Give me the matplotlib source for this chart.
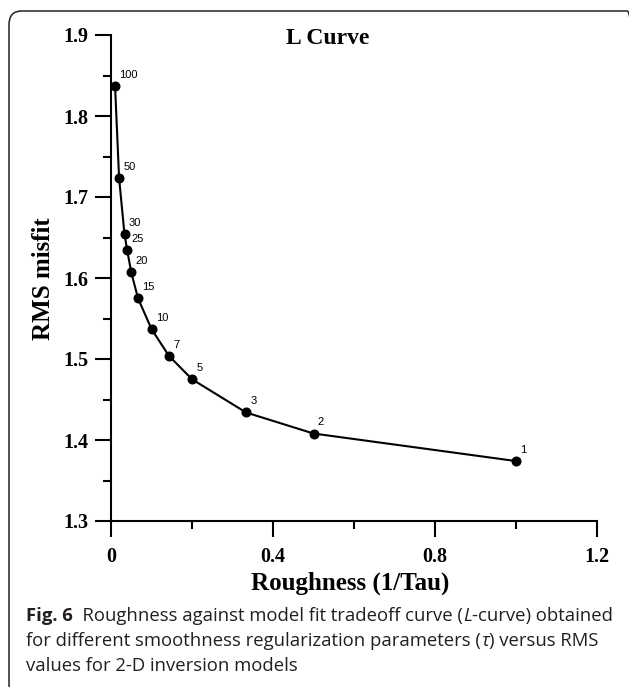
import matplotlib
matplotlib.use("Agg")
import matplotlib.pyplot as plt
from matplotlib.patches import FancyBboxPatch
from matplotlib.ticker import MultipleLocator

# regularization parameter tau, roughness = 1/tau, RMS misfit
tau = [100, 50, 30, 25, 20, 15, 10, 7, 5, 3, 2, 1]
roughness = [1.0 / t for t in tau]
rms = [1.837, 1.723, 1.654, 1.634, 1.607, 1.575, 1.537, 1.504, 1.475, 1.434, 1.408, 1.374]

x_ticks = [0, 0.4, 0.8, 1.2]
x_tick_labels = ["0", "0.4", "0.8", "1.2"]
y_ticks = [1.3, 1.4, 1.5, 1.6, 1.7, 1.8, 1.9]

W, H = 629, 687
fig = plt.figure(figsize=(W / 100, H / 100), dpi=100)

def fx(px):
    return px / W

def fy(py):
    return 1 - py / H

serif = "Liberation Serif"

# rounded frame round the figure
frame = FancyBboxPatch((fx(9), fy(698)), fx(640) - fx(9), fy(11) - fy(698),
                       boxstyle="round,pad=0,rounding_size=0.02",
                       transform=fig.transFigure, fill=False,
                       edgecolor="#222222", linewidth=1.1, clip_on=False)
fig.patches.append(frame)

ax = fig.add_axes([fx(111), fy(521), fx(597) - fx(111), fy(35) - fy(521)])
ax.plot(roughness, rms, color="black", lw=1.5, marker="o", ms=6.2, clip_on=False, zorder=3)
for x, y, t in zip(roughness, rms, tau):
    ax.annotate(str(t), (x, y), xytext=(3, 4.5), textcoords="offset points",
                ha="left", va="bottom", fontsize=8, family="Liberation Sans")

ax.set_xlim(0, 1.2)
ax.set_ylim(1.3, 1.9)
for s in ["top", "right"]:
    ax.spines[s].set_visible(False)
for s in ["left", "bottom"]:
    ax.spines[s].set_linewidth(1.5)

ax.set_xticks(x_ticks)
ax.set_xticklabels(x_tick_labels)
ax.set_yticks(y_ticks)
ax.set_yticklabels([f"{v:.1f}" for v in y_ticks])
ax.xaxis.set_minor_locator(MultipleLocator(0.2))
ax.yaxis.set_minor_locator(MultipleLocator(0.05))
ax.tick_params(which="major", direction="out", length=11.5, width=1.5)
ax.tick_params(which="minor", direction="out", length=6, width=1.5)
ax.tick_params(axis="x", which="major", pad=7)
ax.tick_params(axis="y", which="major", pad=5)
for lab in ax.get_xticklabels() + ax.get_yticklabels():
    lab.set_family(serif)
    lab.set_fontweight("bold")
    lab.set_fontsize(14.5)

fig.text(fx(327.5), fy(44), "L Curve", ha="center", va="baseline",
         family=serif, fontweight="bold", fontsize=17)
fig.text(fx(350), fy(590), "Roughness (1/Tau)", ha="center", va="baseline",
         family=serif, fontweight="bold", fontsize=18)
fig.text(fx(44), fy(279), "RMS misfit", ha="center", va="center", rotation=90,
         family=serif, fontweight="bold", fontsize=18)

# caption, drawn piece by piece so bold / italic runs share one baseline
cap_font = ["Open Sans", "DejaVu Sans"]
cap_size = 13.3
cap_color = "#231f20"
lines = [
    [("Fig. 6", "bold", "normal"), ("  Roughness against model fit tradeoff curve (", "normal", "normal"),
     ("L", "normal", "italic"), ("-curve) obtained", "normal", "normal")],
    [("for different smoothness regularization parameters (", "normal", "normal"),
     ("τ", "normal", "italic"), (") versus RMS", "normal", "normal")],
    [("values for 2-D inversion models", "normal", "normal")],
]
renderer = fig.canvas.get_renderer()
for i, pieces in enumerate(lines):
    x = 26
    base = 621 + 25 * i
    for txt, weight, style in pieces:
        t = fig.text(fx(x), fy(base), txt, ha="left", va="baseline", family=cap_font,
                     fontweight=weight, fontstyle=style, fontsize=cap_size, color=cap_color)
        x += t.get_window_extent(renderer).width

fig.savefig("out.png", dpi=100)
